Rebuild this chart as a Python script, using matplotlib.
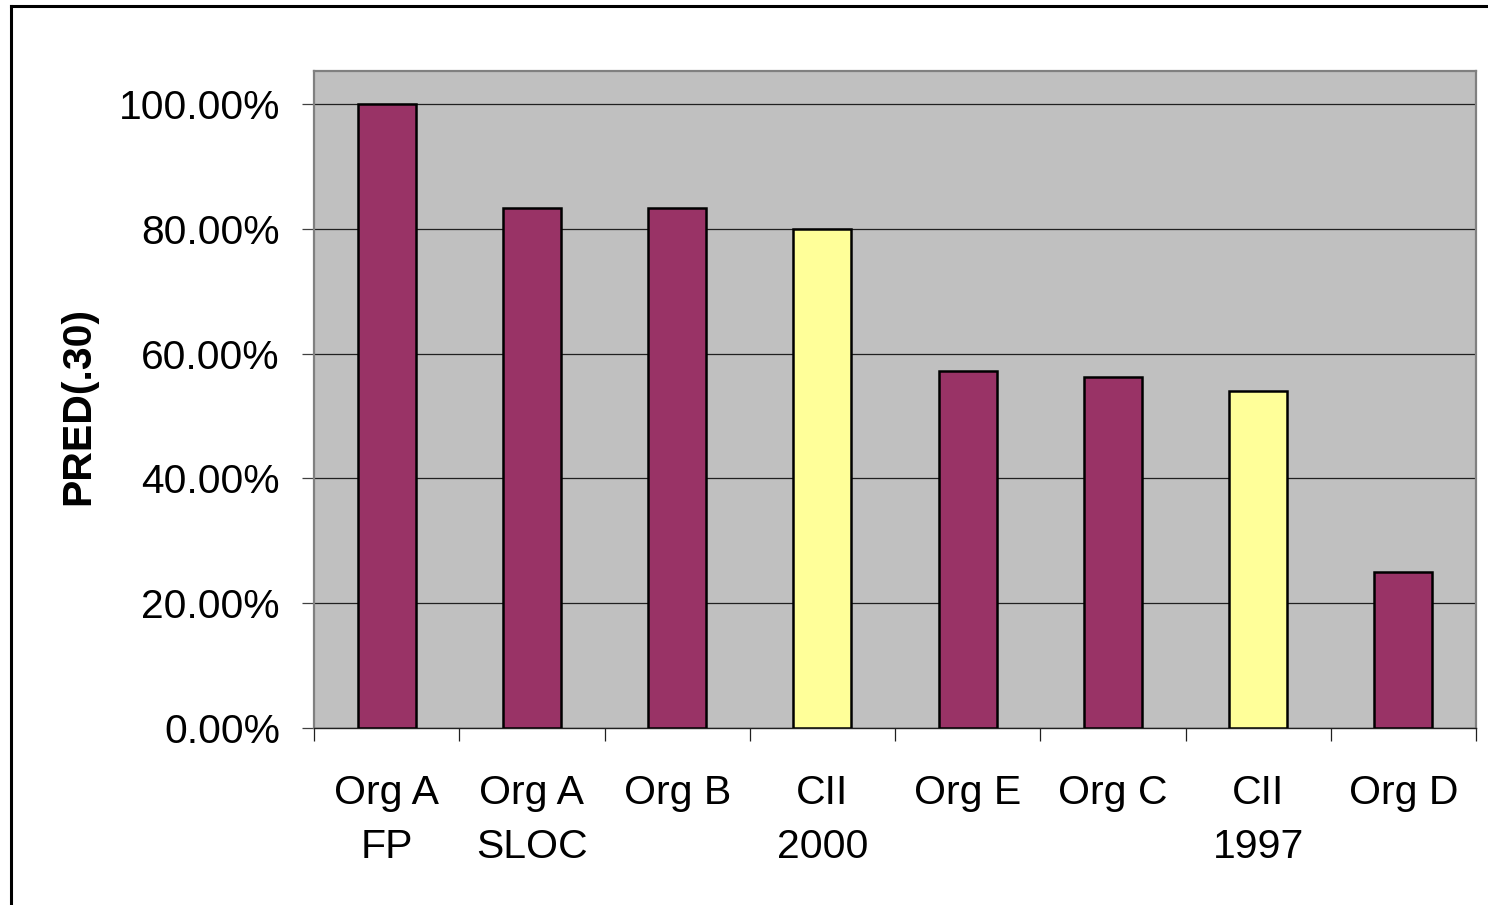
import matplotlib
matplotlib.use("Agg")
import matplotlib.pyplot as plt
from matplotlib.lines import Line2D
from matplotlib.ticker import FixedLocator, PercentFormatter
import numpy as np

categories = ["Org A\nFP", "Org A\nSLOC", "Org B", "CII\n2000", "Org E", "Org C", "CII\n1997", "Org D"]
pred30 = [1.0, 0.8333, 0.8333, 0.80, 0.5714, 0.5625, 0.54, 0.25]
is_cii = [False, False, False, True, False, False, True, False]

PURPLE = "#993366"
YELLOW = "#FFFF99"
PLOT_BG = "#C0C0C0"

plt.rcParams["font.family"] = ["Liberation Sans", "DejaVu Sans"]

fig = plt.figure(figsize=(14.88, 9.05), dpi=100)
ax = fig.add_axes([314 / 1488, 1 - 728 / 905, (1476 - 314) / 1488, (728 - 71) / 905])
ax.set_facecolor(PLOT_BG)

x = np.arange(len(categories))
colors = [YELLOW if c else PURPLE for c in is_cii]
ax.bar(x, pred30, width=0.40, color=colors, edgecolor="black", linewidth=1.8, zorder=3)

ax.set_xlim(-0.5, len(categories) - 0.5)
ax.set_ylim(0, 1.053)

# y axis: percent ticks with gridlines
ax.set_yticks(np.arange(0, 1.01, 0.2))
ax.yaxis.set_major_formatter(PercentFormatter(xmax=1.0, decimals=2))
ax.grid(axis="y", color="#202020", linewidth=0.9, zorder=1)
ax.tick_params(axis="y", length=9, width=0.9, color="#404040", pad=15.5, labelsize=29.3)

# x axis: tick marks between categories, labels centred under bars
ax.xaxis.set_major_locator(FixedLocator(np.arange(-0.5, len(categories), 1.0)))
ax.xaxis.set_minor_locator(FixedLocator(x))
ax.set_xticklabels([], minor=False)
ax.set_xticklabels(categories, minor=True, linespacing=1.55)
ax.tick_params(axis="x", which="major", length=9, width=0.9, color="#202020")
ax.tick_params(axis="x", which="minor", length=0, pad=33, labelsize=29.5)

for side in ("top", "right", "left"):
    ax.spines[side].set_color("#808080")
    ax.spines[side].set_linewidth(1.6)
ax.spines["bottom"].set_color("#202020")
ax.spines["bottom"].set_linewidth(1.0)

fig.text(78 / 1488, 1 - 406 / 905, "PRED(.30)", rotation=90, fontsize=29.5,
         fontweight="bold", ha="center", va="center")

# chart-area frame (top and left edges)
fig.add_artist(Line2D([10.5 / 1488, 10.5 / 1488], [0, 1 - 6 / 905], transform=fig.transFigure,
                      color="black", linewidth=2.2))
fig.add_artist(Line2D([10.5 / 1488, 1], [1 - 6 / 905, 1 - 6 / 905], transform=fig.transFigure,
                      color="black", linewidth=2.2))

fig.savefig("out.png", dpi=100, facecolor="white")
